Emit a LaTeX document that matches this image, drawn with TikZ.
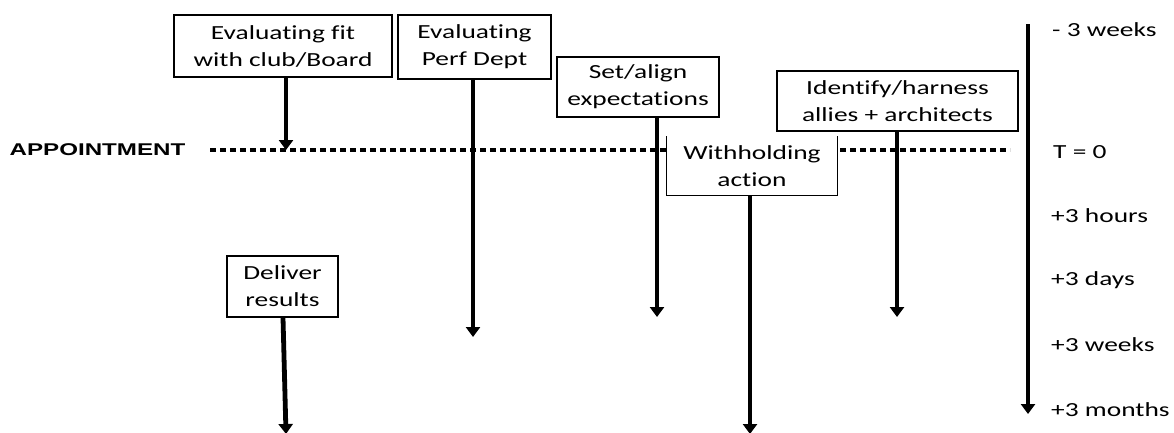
\documentclass[tikz,border=0pt]{standalone}
\usepackage{fontspec}
\usetikzlibrary{arrows.meta}
\newfontfamily\calib[FakeStretch=1.37,Ligatures={NoCommon,NoContextual}]{Carlito}
\newfontfamily\apfont[FakeStretch=1.42]{Liberation Sans}
\tikzset{
  boxnode/.style={draw=black, line width=1.3pt, fill=white, inner sep=0pt, align=center,
    font=\calib\fontsize{20}{27}\selectfont},
  arr/.style={line width=4.8pt, -{Triangle[width=14pt,length=10pt]}},
  tlabel/.style={anchor=west, inner sep=0pt, font=\calib\fontsize{20}{24}\selectfont},
  dotline/.style={line width=4.2pt, dash pattern=on 6pt off 4pt}
}
\begin{document}
\begin{tikzpicture}[x=1pt,y=-1pt]
\useasboundingbox (0,0) rectangle (1174,432);
% dotted appointment line
\coordinate (dl) at (210,150);
\coordinate (dr) at (1010,150);
\draw[dotline] (dl) -- (dr);
\node[inner sep=0pt, font=\apfont\bfseries\fontsize{17}{20}\selectfont] (appt) at (97.5,150) {APPOINTMENT};

% boxes
\node[boxnode, minimum width=218pt, minimum height=62pt] (b1) at (283,46) {Evaluating fit\\with club/Board};
\node[boxnode, minimum width=153pt, minimum height=64pt] (b2) at (474.5,47) {Evaluating\\Perf Dept};
\node[boxnode, minimum width=162pt, minimum height=60pt] (b3) at (638,87) {Set/align\\expectations};
\node[boxnode, minimum width=241pt, minimum height=60pt] (b4) at (897.5,101) {Identify/harness\\allies + architects};
\node[boxnode, draw=none, minimum width=170pt, minimum height=58pt] (b5) at (752,166) {Withholding\\action};
\draw[line width=1.3pt] (b5.north west) -- (b5.south west) -- (b5.south east) -- (b5.north east);
\node[boxnode, minimum width=111pt, minimum height=61pt] (b6) at (282.5,286.5) {Deliver\\results};

% arrow end points
\coordinate (e1) at (286,150);
\coordinate (e2) at (473,337);
\coordinate (e3) at (657,317);
\coordinate (e4) at (897,317);
\coordinate (e5) at (750,434);
\coordinate (e6) at (286,434);

\draw[arr] (b1.south -| e1) -- (e1);
\draw[arr] (b2.south -| e2) -- (e2);
\draw[arr] (b3.south -| e3) -- (e3);
\draw[arr] (b4.south -| e4) -- (e4);
\draw[arr] (b5.south -| e5) -- (e5);
\draw[arr] ([xshift=0.5pt]b6.south) -- (e6);

% timeline
\coordinate (ts) at (1028,24);
\coordinate (te) at (1028,414);
\draw[arr] (ts) -- (te);
\node[tlabel] (l1) at (1052,30) {- 3 weeks};
\node[tlabel] (l2) at (1053,152) {T = 0};
\node[tlabel] (l3) at (1051,216) {+3 hours};
\node[tlabel] (l4) at (1051,280) {+3 days};
\node[tlabel] (l5) at (1051,345) {+3 weeks};
\node[tlabel] (l6) at (1051,410) {+3 months};
\end{tikzpicture}
\end{document}
